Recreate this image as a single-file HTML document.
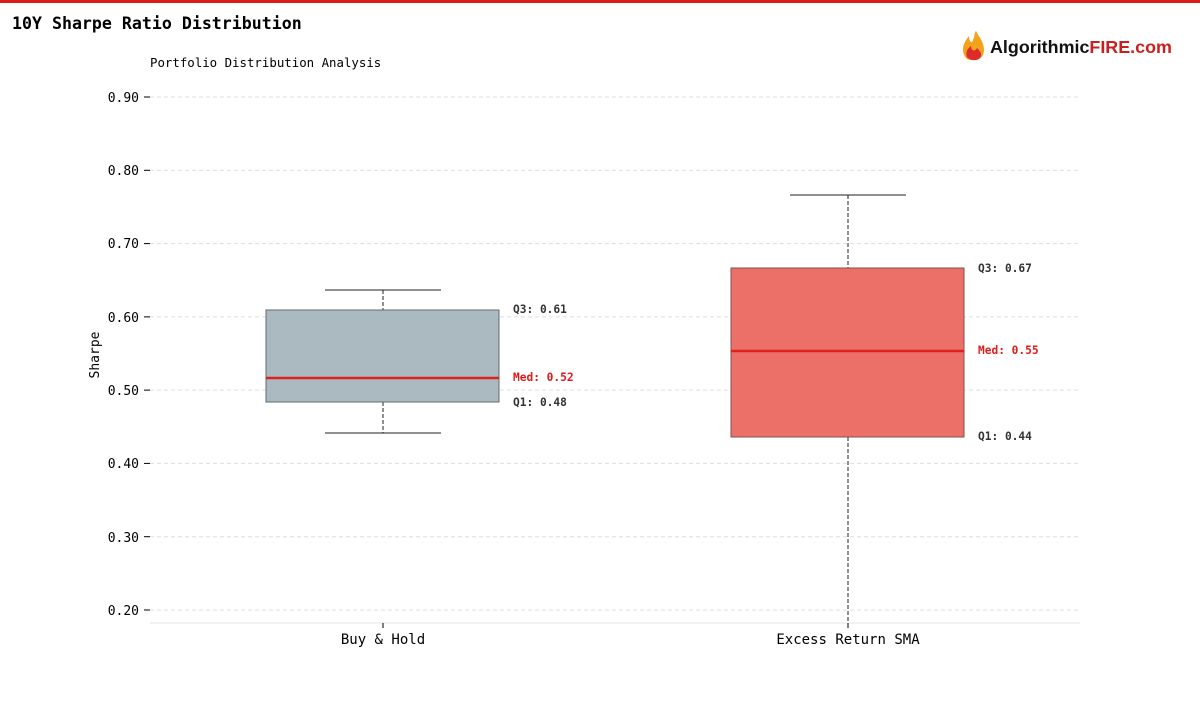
<!DOCTYPE html>
<html><head><meta charset="utf-8"><style>
body{margin:0;background:#fff;width:1200px;height:700px;overflow:hidden;font-family:"DejaVu Sans Mono","Liberation Mono",monospace;}
</style></head><body>
<svg width="1200" height="700" xmlns="http://www.w3.org/2000/svg" font-family="DejaVu Sans Mono, Liberation Mono, monospace">
<rect x="0" y="0" width="1200" height="3" fill="#dd1c1a"/>
<text x="12" y="29" font-size="16.6" font-weight="bold" fill="#000">10Y Sharpe Ratio Distribution</text>
<text x="150" y="67" font-size="12.4" fill="#000">Portfolio Distribution Analysis</text>
<g>
<path d="M966 58 C960 50 964 42 969 36 C969 42 972 44 973 40 C975 36 974 33 976 31 C979 37 984 42 984 50 C984 56 980 60 975 60 C970 60 968 60 966 58Z" fill="#f2a21b"/>
<path d="M967 57 C965 52 968 48 971 46 C971 51 975 52 977 48 C980 51 983 54 980 58 C977 61 970 61 967 57Z" fill="#dd2a2a"/>
<text x="990" y="53" font-family="Liberation Sans, sans-serif" font-size="17.9" font-weight="bold" fill="#111">Algorithmic<tspan fill="#c9201f">FIRE</tspan><tspan fill="#c9201f">.com</tspan></text>
</g>
<g stroke="#dddddd" stroke-width="1" stroke-dasharray="4,3">
<line x1="150" y1="97" x2="1080" y2="97"/>
<line x1="150" y1="170.3" x2="1080" y2="170.3"/>
<line x1="150" y1="243.6" x2="1080" y2="243.6"/>
<line x1="150" y1="316.9" x2="1080" y2="316.9"/>
<line x1="150" y1="390.1" x2="1080" y2="390.1"/>
<line x1="150" y1="463.4" x2="1080" y2="463.4"/>
<line x1="150" y1="536.7" x2="1080" y2="536.7"/>
<line x1="150" y1="610" x2="1080" y2="610"/>
</g>
<line x1="150" y1="623" x2="1080" y2="623" stroke="#e6e6e6"/>
<g font-size="13" fill="#000" text-anchor="end">
<text x="139" y="102">0.90</text><text x="139" y="175">0.80</text><text x="139" y="248">0.70</text>
<text x="139" y="322">0.60</text><text x="139" y="395">0.50</text><text x="139" y="468">0.40</text>
<text x="139" y="542">0.30</text><text x="139" y="615">0.20</text>
</g>
<g stroke="#000"><line x1="144" y1="97" x2="150" y2="97"/><line x1="144" y1="170.3" x2="150" y2="170.3"/><line x1="144" y1="243.6" x2="150" y2="243.6"/><line x1="144" y1="316.9" x2="150" y2="316.9"/><line x1="144" y1="390.1" x2="150" y2="390.1"/><line x1="144" y1="463.4" x2="150" y2="463.4"/><line x1="144" y1="536.7" x2="150" y2="536.7"/><line x1="144" y1="610" x2="150" y2="610"/>
<line x1="383" y1="623" x2="383" y2="628"/><line x1="848" y1="623" x2="848" y2="628"/></g>
<text x="99" y="355" font-size="13" text-anchor="middle" transform="rotate(-90 99 355)">Sharpe</text>
<text x="383" y="644" font-size="14" text-anchor="middle">Buy &amp; Hold</text>
<text x="848" y="644" font-size="14" text-anchor="middle">Excess Return SMA</text>
<g stroke="#222" stroke-width="1">
<line x1="383" y1="290" x2="383" y2="310" stroke-dasharray="4,2"/>
<line x1="383" y1="402" x2="383" y2="433" stroke-dasharray="4,2"/>
<line x1="325" y1="290" x2="441" y2="290"/>
<line x1="325" y1="433" x2="441" y2="433"/>
<line x1="848" y1="195" x2="848" y2="268" stroke-dasharray="4,2"/>
<line x1="848" y1="437" x2="848" y2="623" stroke-dasharray="4,2"/>
<line x1="790" y1="195" x2="906" y2="195"/>
</g>
<rect x="266" y="310" width="233" height="92" fill="#abb9c0" stroke="#5f6b70"/>
<line x1="266" y1="378" x2="499" y2="378" stroke="#e0201c" stroke-width="2.5"/>
<rect x="731" y="268" width="233" height="169" fill="#ec7068" stroke="#7a5550"/>
<line x1="731" y1="351" x2="964" y2="351" stroke="#e0201c" stroke-width="2.5"/>
<g font-size="11.2" font-weight="bold" fill="#333">
<text x="513" y="313">Q3: 0.61</text><text x="513" y="406">Q1: 0.48</text>
<text x="513" y="381" fill="#dd1c1a">Med: 0.52</text>
<text x="978" y="272">Q3: 0.67</text><text x="978" y="440">Q1: 0.44</text>
<text x="978" y="354" fill="#dd1c1a">Med: 0.55</text>
</g>
</svg>
</body></html>
